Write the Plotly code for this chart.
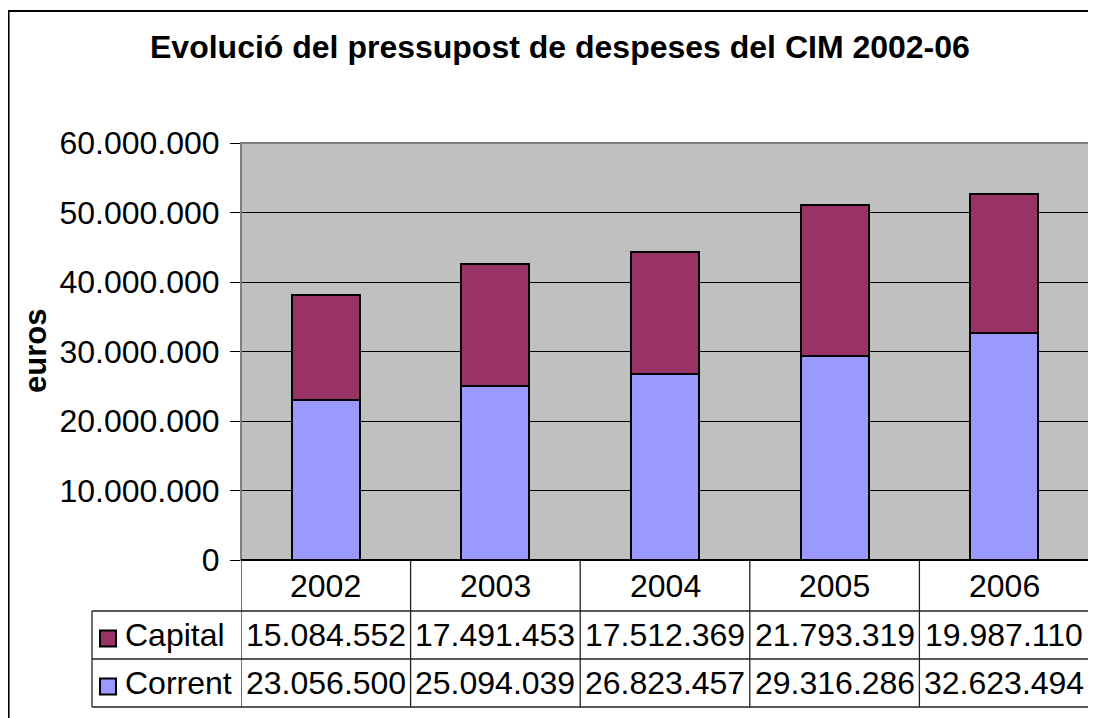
import plotly.graph_objects as go

# page body has an 8px margin; design in reference pixels and shift
OFF = 8
W, H = 1096 - OFF, 718 - OFF

years = ["2002", "2003", "2004", "2005", "2006"]
capital = [15084552, 17491453, 17512369, 21793319, 19987110]
corrent = [23056500, 25094039, 26823457, 29316286, 32623494]
series_names = ["Capital", "Corrent"]
series_colors = ["#993366", "#9999FF"]
title_text = "Evolució del pressupost de despeses del CIM 2002-06"
y_title = "euros"
y_ticks = [0, 10000000, 20000000, 30000000, 40000000, 50000000, 60000000]

FONT = "Liberation Sans, Arial, sans-serif"

def px(x):
    return (x - OFF) / W

def py(y):
    return (H - (y - OFF)) / H

def fmt(v):
    return f"{v:,}".replace(",", ".")

# layout geometry (reference pixels)
PL, PR, PT, PB = 241, 1089, 143, 560
ROW_HDR = (560, 611)
ROW_CAP = (611, 659)
ROW_COR = (659, 707)
LEG_L = 92

fig = go.Figure()
fig.add_trace(go.Bar(x=list(range(len(years))), y=corrent, name=series_names[1],
                     marker=dict(color=series_colors[1], line=dict(color="black", width=2)),
                     width=0.4))
fig.add_trace(go.Bar(x=list(range(len(years))), y=capital, name=series_names[0],
                     marker=dict(color=series_colors[0], line=dict(color="black", width=2)),
                     width=0.4))

shapes = []
annotations = []

# outer chart border (top and left visible)
shapes.append(dict(type="line", xref="paper", yref="paper", x0=px(8.8), x1=px(8.8),
                   y0=py(718 + 20), y1=py(11), line=dict(color="black", width=1.6)))
shapes.append(dict(type="line", xref="paper", yref="paper", x0=px(8), x1=px(1096 + 20),
                   y0=py(11), y1=py(11), line=dict(color="black", width=2)))
# plot area border gray
shapes.append(dict(type="rect", xref="paper", yref="paper", x0=px(PL), x1=px(PR),
                   y0=py(PB), y1=py(PT), line=dict(color="#808080", width=2), layer="above"))

line_c = "#222222"
shapes.append(dict(type="line", xref="paper", yref="paper", x0=px(PL), x1=px(PR),
                   y0=py(PB), y1=py(PB), line=dict(color="black", width=2)))
for yy in (ROW_CAP[0], ROW_COR[0], ROW_COR[1]):
    shapes.append(dict(type="line", xref="paper", yref="paper", x0=px(LEG_L), x1=px(PR),
                       y0=py(yy), y1=py(yy), line=dict(color=line_c, width=1.3)))
shapes.append(dict(type="line", xref="paper", yref="paper", x0=px(LEG_L), x1=px(LEG_L),
                   y0=py(ROW_CAP[0]), y1=py(ROW_COR[1]), line=dict(color=line_c, width=1.3)))
for i in range(len(years) + 1):
    shapes.append(dict(type="line", xref="x", yref="paper", x0=i - 0.5, x1=i - 0.5,
                       y0=py(ROW_HDR[0]), y1=py(ROW_COR[1]), line=dict(color=line_c, width=1.3)))

TS = 32
def ann(x, y, text, xref="paper", xanchor="center", size=TS, **kw):
    annotations.append(dict(x=x, y=y, xref=xref, yref="paper", text=text, showarrow=False,
                            xanchor=xanchor, yanchor="middle",
                            font=dict(size=size, color="black", family=FONT), **kw))

for i, yr in enumerate(years):
    ann(i, py(sum(ROW_HDR) / 2), yr, xref="x")
    ann(i, py(sum(ROW_CAP) / 2), fmt(capital[i]), xref="x")
    ann(i, py(sum(ROW_COR) / 2), fmt(corrent[i]), xref="x")

for (r0, r1), name, col in ((ROW_CAP, series_names[0], series_colors[0]),
                            (ROW_COR, series_names[1], series_colors[1])):
    cy = (r0 + r1) / 2 + 3.5
    shapes.append(dict(type="rect", xref="paper", yref="paper", x0=px(100), x1=px(116),
                       y0=py(cy + 8), y1=py(cy - 8), fillcolor=col,
                       line=dict(color="black", width=2)))
    ann(px(123), py((r0 + r1) / 2), name, xanchor="left")

ann(px(560), py(47), "<b>" + title_text + "</b>", size=32)
ann(px(35), py(351), "<b>" + y_title + "</b>", size=31, textangle=-90)

fig.update_layout(
    width=W, height=H,
    margin=dict(l=0, r=0, t=0, b=0, pad=0),
    paper_bgcolor="white",
    plot_bgcolor="#C0C0C0",
    barmode="stack",
    showlegend=False,
    separators=",.",
    shapes=shapes,
    annotations=annotations,
    xaxis=dict(domain=[px(PL), px(PR)], range=[-0.5, len(years) - 0.5], automargin=False,
               showticklabels=False, showgrid=False, zeroline=False, ticks="", showline=False),
    yaxis=dict(domain=[py(PB), py(PT)], range=[0, 60000000], tickvals=y_ticks, automargin=False,
               tickformat=",d", ticks="outside", ticklen=10, tickcolor="black", tickwidth=1.3,
               showgrid=True, gridcolor="black", gridwidth=1, zeroline=False,
               showline=False, ticklabelstandoff=4,
               tickfont=dict(size=32, color="black", family=FONT)),
)

fig.write_html("out.html")
